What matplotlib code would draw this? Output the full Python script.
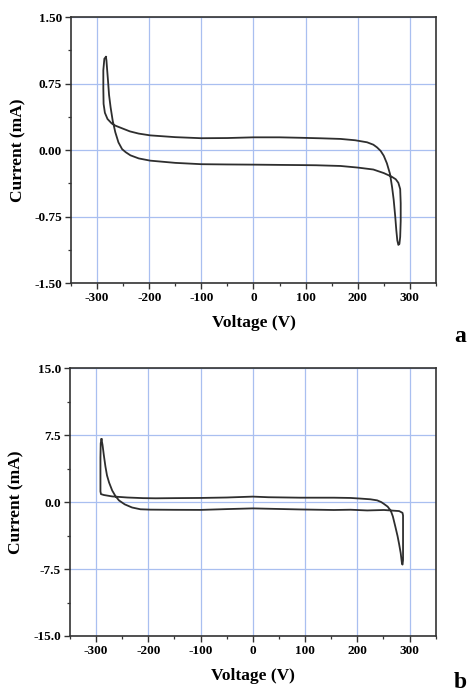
import matplotlib
matplotlib.use("Agg")
import matplotlib.pyplot as plt
from matplotlib.ticker import MultipleLocator

plt.rcParams['font.family'] = ['Liberation Serif', 'DejaVu Serif']
plt.rcParams['font.weight'] = 'bold'
plt.rcParams['axes.unicode_minus'] = False

# panel a: one closed CV loop, voltage (V) and current (mA)
volt_a = [-283, -286, -288, -288, -287.5, -285, -280, -272, -265, -250, -237, -220,
          -198, -150, -100, -50, 0, 50, 90, 130, 167, 195, 218, 230, 237, 244, 250,
          256, 262, 266, 269, 272, 274, 276, 278, 280, 281.5, 282.5, 282.5, 281.5,
          278, 273, 265, 250, 230, 200, 167, 120, 90, 50, 0, -50, -100, -150, -198,
          -220, -236, -245, -252, -259, -265, -270, -274, -277, -279, -281, -282, -283]
curr_a = [1.05, 1.03, 0.90, 0.70, 0.52, 0.42, 0.35, 0.30, 0.275, 0.24, 0.21, 0.185,
          0.165, 0.145, 0.133, 0.135, 0.143, 0.143, 0.138, 0.132, 0.125, 0.11, 0.087,
          0.06, 0.03, -0.01, -0.065, -0.15, -0.27, -0.42, -0.56, -0.75, -0.90, -1.02,
          -1.07, -1.06, -0.98, -0.80, -0.60, -0.44, -0.37, -0.33, -0.30, -0.26, -0.22,
          -0.198, -0.18, -0.172, -0.17, -0.168, -0.165, -0.163, -0.16, -0.145, -0.12,
          -0.095, -0.06, -0.025, 0.01, 0.086, 0.20, 0.33, 0.48, 0.62, 0.78, 0.93,
          1.01, 1.05]

# panel b
volt_b = [-289.5, -291, -291.5, -291.5, -291.5, -290.5, -285, -269, -240, -210, -186,
          -150, -100, -50, 0, 30, 91, 155, 187, 206, 225, 238, 246, 251, 258, 264,
          268, 273, 277, 280, 283, 285.5, 286.5, 287.5, 287.5, 287.5, 286.5, 280,
          251, 219, 187, 155, 91, 0, -50, -100, -150, -196, -215, -231, -245, -256,
          -263, -269, -275, -279, -282, -285, -287.5, -289.5]
curr_b = [7.05, 6.6, 5.0, 3.0, 1.2, 0.9, 0.8, 0.64, 0.52, 0.45, 0.43, 0.45, 0.47,
          0.52, 0.62, 0.55, 0.50, 0.50, 0.47, 0.40, 0.32, 0.20, 0.0, -0.2, -0.5,
          -0.95, -1.6, -2.8, -3.8, -4.7, -5.7, -6.9, -7.0, -6.5, -4.0, -1.5, -1.2,
          -1.0, -0.88, -0.93, -0.85, -0.88, -0.82, -0.70, -0.78, -0.87, -0.86, -0.84,
          -0.80, -0.60, -0.25, 0.19, 0.70, 1.3, 2.2, 3.0, 4.0, 5.25, 6.4, 7.05]

xticks = [-300, -200, -100, 0, 100, 200, 300]
yticks_a = [-1.50, -0.75, 0.00, 0.75, 1.50]
yticks_b = [-15.0, -7.5, 0.0, 7.5, 15.0]

fig = plt.figure(figsize=(4.69, 6.94), dpi=100)
ax_a = fig.add_axes([0.1514, 0.5922, 0.778, 0.3833])
ax_b = fig.add_axes([0.149, 0.0836, 0.780, 0.3857])


def style(ax, volt, curr, yticks, fmt):
    ax.plot(volt, curr, color='#2e2e2e', lw=1.3, solid_joinstyle='round', zorder=3)
    ax.set_xlim(-350, 350)
    ax.set_ylim(yticks[0], yticks[-1])
    ax.set_xticks(xticks)
    ax.set_yticks(yticks)
    ax.set_yticklabels([fmt % v for v in yticks])
    ax.xaxis.set_minor_locator(MultipleLocator(50))
    ax.yaxis.set_minor_locator(MultipleLocator((yticks[1] - yticks[0]) / 2))
    ax.grid(True, which='major', color='#a9bff0', lw=0.9, zorder=0)
    ax.tick_params(which='major', direction='out', length=4, width=1, color='#333333',
                   labelsize=9.5, pad=2.5)
    ax.tick_params(which='minor', direction='out', length=2.5, width=0.9, color='#333333')
    for sp in ax.spines.values():
        sp.set_color('#333333')
        sp.set_linewidth(1.2)
    ax.set_xlabel('Voltage (V)', fontsize=12.5, fontweight='bold', labelpad=8)
    ax.set_ylabel('Current (mA)', fontsize=12.5, fontweight='bold', labelpad=6)


style(ax_a, volt_a, curr_a, yticks_a, '%.2f')
style(ax_b, volt_b, curr_b, yticks_b, '%.1f')

fig.text(460 / 469, 1 - 336 / 694, 'a', fontsize=17, fontweight='bold',
         ha='center', va='center')
fig.text(460 / 469, 1 - 682 / 694, 'b', fontsize=17, fontweight='bold',
         ha='center', va='center')

fig.savefig('out.png', dpi=100)
